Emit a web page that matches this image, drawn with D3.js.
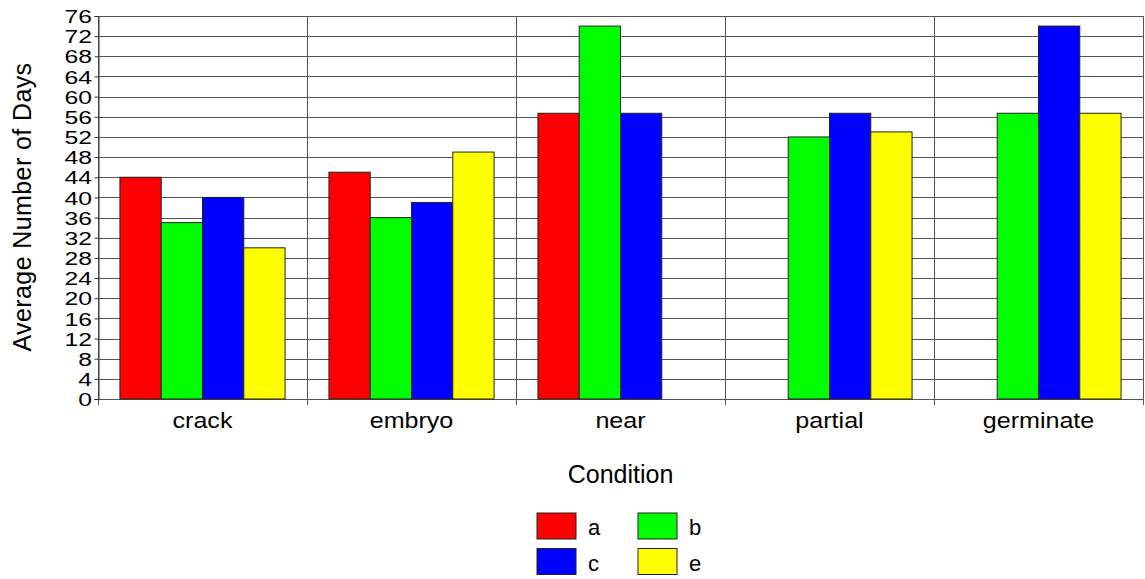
<html>
<head>
<style>
body { margin: 0; background: #fff; }
text { font-family: "Liberation Sans", Arial, sans-serif; fill: #000; }
</style>
<script src="https://d3js.org/d3.v7.min.js"></script>
</head>
<body>
<div id="chart"></div>
<script>
// categories and series (null = no bar)
var categories = ["crack", "embryo", "near", "partial", "germinate"];
var seriesNames = ["a", "b", "c", "e"];
var seriesColors = ["#ff0000", "#00ff00", "#0000ff", "#ffff00"];
var valuesA = [44, 45, 56.7, null, null];
var valuesB = [35, 36, 74, 52, 56.7];
var valuesC = [40, 39, 56.7, 56.7, 74];
var valuesE = [30, 49, null, 53, 56.7];
var yTicks = d3.range(0, 77, 4);

var series = [valuesA, valuesB, valuesC, valuesE];

var width = 1145, height = 579;
// plot box (window.top is reserved, so not "top")
var plotL = 98, plotR = 1143, plotT = 16, plotB = 399;

var svg = d3.select("#chart").append("svg")
	.attr("width", width)
	.attr("height", height);

var y = d3.scaleLinear().domain([0, 76]).range([plotB, plotT]);
var x0 = d3.scaleBand().domain(categories).range([plotL, plotR]).padding(0);
var bw = x0.bandwidth();
var x1 = d3.scaleBand().domain(seriesNames).range([bw * 0.105, bw * 0.895]).padding(0);

// grid
var grid = svg.append("g").attr("stroke", "#555").attr("stroke-width", 1);
grid.selectAll("line.h").data(yTicks).enter().append("line")
	.attr("x1", plotL).attr("x2", plotR)
	.attr("y1", function(d) { return Math.round(y(d)) + 0.5; })
	.attr("y2", function(d) { return Math.round(y(d)) + 0.5; });
var bounds = categories.map(function(c) { return x0(c); }).concat([plotR]);
grid.selectAll("line.v").data(bounds).enter().append("line")
	.attr("x1", function(d) { return Math.round(d) + 0.5; })
	.attr("x2", function(d) { return Math.round(d) + 0.5; })
	.attr("y1", plotT).attr("y2", plotB + 6);

// bars
var rows = [];
series.forEach(function(vals, si) {
	vals.forEach(function(v, ci) {
		if (v != null) rows.push({ cat: categories[ci], s: seriesNames[si], color: seriesColors[si], v: v });
	});
});
svg.append("g").selectAll("rect").data(rows).enter().append("rect")
	.attr("x", function(d) { return x0(d.cat) + x1(d.s); })
	.attr("y", function(d) { return y(d.v); })
	.attr("width", x1.bandwidth())
	.attr("height", function(d) { return plotB - y(d.v); })
	.attr("fill", function(d) { return d.color; })
	.attr("stroke", "#222")
	.attr("stroke-width", 1);

// y axis -- labels in the original are drawn wide, so stretch them a bit
var yAxis = d3.axisLeft(y).tickValues(yTicks).tickSize(4).tickPadding(3);
var ya = svg.append("g").attr("transform", "translate(" + (plotL + 0.5) + ",0)").call(yAxis);
ya.select(".domain").attr("stroke", "#333");
ya.selectAll(".tick line").attr("stroke", "#333");
ya.selectAll("text")
	.style("font-size", "19px")
	.attr("x", -6.5 / 1.3)
	.attr("dy", "0.35em")
	.attr("transform", "scale(1.3,1)");

// x labels
svg.append("g").selectAll("text").data(categories).enter().append("text")
	.attr("transform", function(d) { return "translate(" + (x0(d) + bw / 2) + ",427.5) scale(1.14,1)"; })
	.attr("text-anchor", "middle")
	.style("font-size", "22px")
	.text(function(d) { return d; });

// axis titles
svg.append("text")
	.attr("x", (plotL + plotR) / 2).attr("y", 482.5)
	.attr("text-anchor", "middle")
	.style("font-size", "25px")
	.text("Condition");

svg.append("text")
	.attr("transform", "translate(31,207) rotate(-90)")
	.attr("text-anchor", "middle")
	.style("font-size", "25px")
	.style("letter-spacing", "0.4px")
	.text("Average Number of Days");

// legend
var legend = svg.append("g").selectAll("g").data(seriesNames).enter().append("g")
	.attr("transform", function(d, i) {
		return "translate(" + (537 + (i % 2) * 101) + "," + (513 + Math.floor(i / 2) * 35.5) + ")";
	});
legend.append("rect")
	.attr("width", 39).attr("height", 26)
	.attr("fill", function(d, i) { return seriesColors[i]; })
	.attr("stroke", "#222");
legend.append("text")
	.attr("x", 51).attr("y", 22)
	.style("font-size", "22px")
	.text(function(d) { return d; });
</script>
</body>
</html>
